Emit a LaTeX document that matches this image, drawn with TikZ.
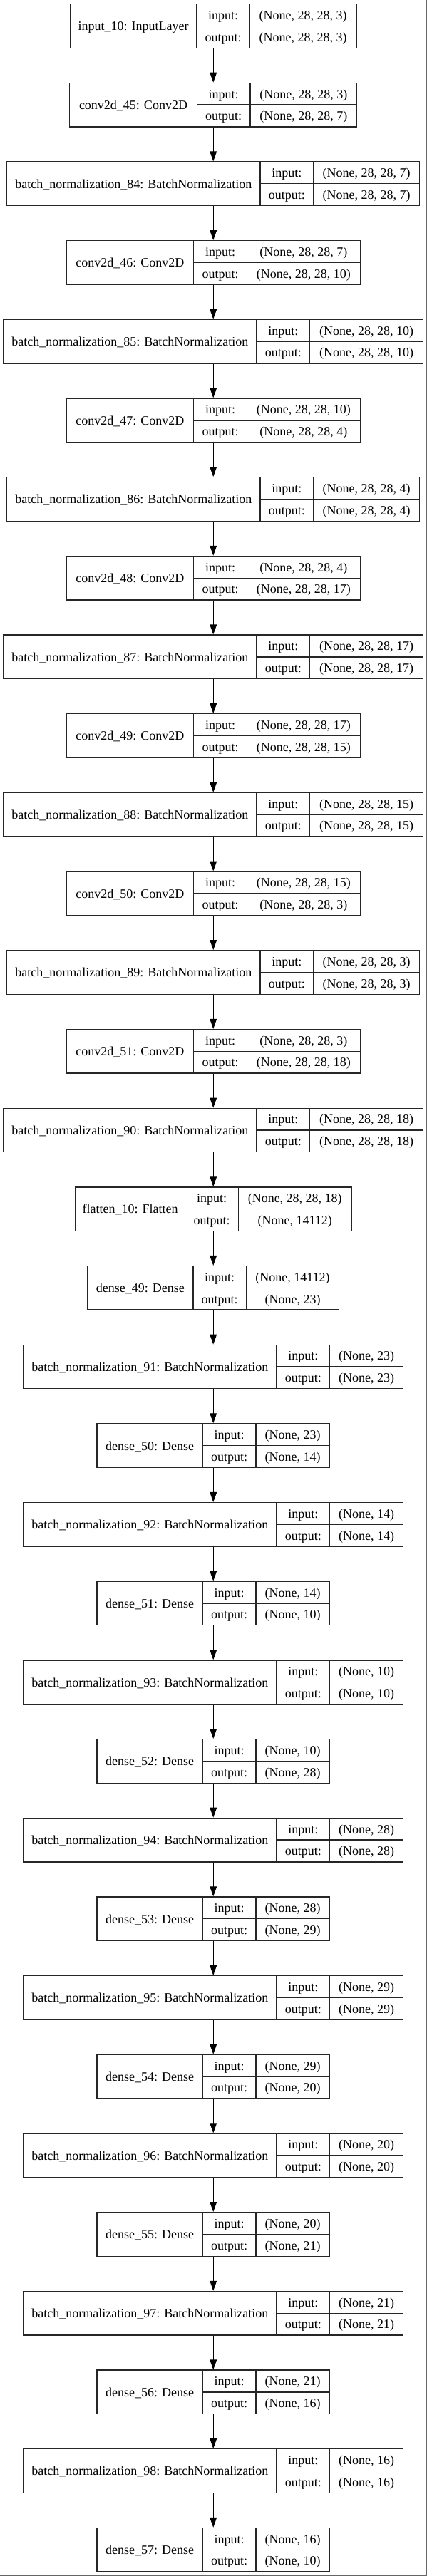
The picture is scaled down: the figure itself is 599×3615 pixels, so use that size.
\documentclass[tikz,border=0pt]{standalone}
\usepackage{fontspec}
\setmainfont{Liberation Serif}
\usetikzlibrary{arrows.meta}
\tikzset{
  layer/.style={draw=black!85, line width=1pt, inner sep=0pt, minimum height={61.5*0.75pt}},
  cell/.style={draw=black!85, line width=1pt},
  txt/.style={anchor=base, inner sep=0pt, font=\fontsize{13.5}{16}\selectfont},
  arr/.style={draw=black, line width=0.8pt, -{Triangle[length=10.5pt,width=7.3pt]}},
  frame/.style={draw=black!60, line width=1.1pt}
}
\newcommand{\layerbox}[7]{%
  \pgfmathsetmacro\ly{5.7+#1*110.68}%
  \pgfmathsetmacro\lw{#3+74.7+#4}%
  \pgfmathsetmacro\lx{299.2-\lw/2}%
  \pgfmathsetmacro\lda{\lx+#3}%
  \pgfmathsetmacro\ldb{\lda+74.7}%
  \pgfmathsetmacro\lr{\lx+\lw}%
  \pgfmathsetmacro\lm{\ly+30.75}%
  \node[layer, minimum width={\lw*0.75pt}] (#2) at (299.2,\lm) {};
  \draw[cell] (\lda,\ly) -- (\lda,\ly+61.5) (\ldb,\ly) -- (\ldb,\ly+61.5) (\lda,\lm) -- (\lr,\lm);
  \node[txt] (#2-name) at ({\lx+#3/2},{\lm+6.3}) {#5};
  \node[txt] (#2-ik) at ({\lda+37.35},{\ly+15.375+6.3}) {input:};
  \node[txt] (#2-ok) at ({\lda+37.35},{\ly+46.125+6.3}) {output:};
  \node[txt] (#2-iv) at ({\ldb+#4/2},{\ly+15.375+6.3}) {#6};
  \node[txt] (#2-ov) at ({\ldb+#4/2},{\ly+46.125+6.3}) {#7};
}
\begin{document}
\begin{tikzpicture}[x=0.75pt,y=-0.75pt]
\useasboundingbox (0,0) rectangle (599,3615);
\draw[frame] (598.3,0) -- (598.3,3614) -- (0,3614);
\layerbox{0}{l0}{177.3}{149.3}{input\_10: InputLayer}{(None, 28, 28, 3)}{(None, 28, 28, 3)}
\layerbox{1}{l1}{178.7}{149.7}{conv2d\_45: Conv2D}{(None, 28, 28, 3)}{(None, 28, 28, 7)}
\layerbox{2}{l2}{355.3}{148.9}{batch\_normalization\_84: BatchNormalization}{(None, 28, 28, 7)}{(None, 28, 28, 7)}
\layerbox{3}{l3}{178.7}{158.8}{conv2d\_46: Conv2D}{(None, 28, 28, 7)}{(None, 28, 28, 10)}
\layerbox{4}{l4}{355.3}{158.9}{batch\_normalization\_85: BatchNormalization}{(None, 28, 28, 10)}{(None, 28, 28, 10)}
\layerbox{5}{l5}{178.7}{158.8}{conv2d\_47: Conv2D}{(None, 28, 28, 10)}{(None, 28, 28, 4)}
\layerbox{6}{l6}{355.3}{148.9}{batch\_normalization\_86: BatchNormalization}{(None, 28, 28, 4)}{(None, 28, 28, 4)}
\layerbox{7}{l7}{178.7}{158.8}{conv2d\_48: Conv2D}{(None, 28, 28, 4)}{(None, 28, 28, 17)}
\layerbox{8}{l8}{355.3}{158.9}{batch\_normalization\_87: BatchNormalization}{(None, 28, 28, 17)}{(None, 28, 28, 17)}
\layerbox{9}{l9}{178.7}{158.8}{conv2d\_49: Conv2D}{(None, 28, 28, 17)}{(None, 28, 28, 15)}
\layerbox{10}{l10}{355.3}{158.9}{batch\_normalization\_88: BatchNormalization}{(None, 28, 28, 15)}{(None, 28, 28, 15)}
\layerbox{11}{l11}{178.7}{158.8}{conv2d\_50: Conv2D}{(None, 28, 28, 15)}{(None, 28, 28, 3)}
\layerbox{12}{l12}{355.3}{148.9}{batch\_normalization\_89: BatchNormalization}{(None, 28, 28, 3)}{(None, 28, 28, 3)}
\layerbox{13}{l13}{178.7}{158.8}{conv2d\_51: Conv2D}{(None, 28, 28, 3)}{(None, 28, 28, 18)}
\layerbox{14}{l14}{355.3}{158.9}{batch\_normalization\_90: BatchNormalization}{(None, 28, 28, 18)}{(None, 28, 28, 18)}
\layerbox{15}{l15}{154.4}{158.6}{flatten\_10: Flatten}{(None, 28, 28, 18)}{(None, 14112)}
\layerbox{16}{l16}{148}{130}{dense\_49: Dense}{(None, 14112)}{(None, 23)}
\layerbox{17}{l17}{355.3}{103}{batch\_normalization\_91: BatchNormalization}{(None, 23)}{(None, 23)}
\layerbox{18}{l18}{148}{103.4}{dense\_50: Dense}{(None, 23)}{(None, 14)}
\layerbox{19}{l19}{355.3}{103}{batch\_normalization\_92: BatchNormalization}{(None, 14)}{(None, 14)}
\layerbox{20}{l20}{148}{103.4}{dense\_51: Dense}{(None, 14)}{(None, 10)}
\layerbox{21}{l21}{355.3}{103}{batch\_normalization\_93: BatchNormalization}{(None, 10)}{(None, 10)}
\layerbox{22}{l22}{148}{103.4}{dense\_52: Dense}{(None, 10)}{(None, 28)}
\layerbox{23}{l23}{355.3}{103}{batch\_normalization\_94: BatchNormalization}{(None, 28)}{(None, 28)}
\layerbox{24}{l24}{148}{103.4}{dense\_53: Dense}{(None, 28)}{(None, 29)}
\layerbox{25}{l25}{355.3}{103}{batch\_normalization\_95: BatchNormalization}{(None, 29)}{(None, 29)}
\layerbox{26}{l26}{148}{103.4}{dense\_54: Dense}{(None, 29)}{(None, 20)}
\layerbox{27}{l27}{355.3}{103}{batch\_normalization\_96: BatchNormalization}{(None, 20)}{(None, 20)}
\layerbox{28}{l28}{148}{103.4}{dense\_55: Dense}{(None, 20)}{(None, 21)}
\layerbox{29}{l29}{355.3}{103}{batch\_normalization\_97: BatchNormalization}{(None, 21)}{(None, 21)}
\layerbox{30}{l30}{148}{103.4}{dense\_56: Dense}{(None, 21)}{(None, 16)}
\layerbox{31}{l31}{355.3}{103}{batch\_normalization\_98: BatchNormalization}{(None, 16)}{(None, 16)}
\layerbox{32}{l32}{148}{103.4}{dense\_57: Dense}{(None, 16)}{(None, 10)}
\foreach \i [evaluate=\i as \j using int(\i+1)] in {0,...,31} {
  \draw[arr] (l\i.south) -- (l\j.north);
}
\end{tikzpicture}
\end{document}
